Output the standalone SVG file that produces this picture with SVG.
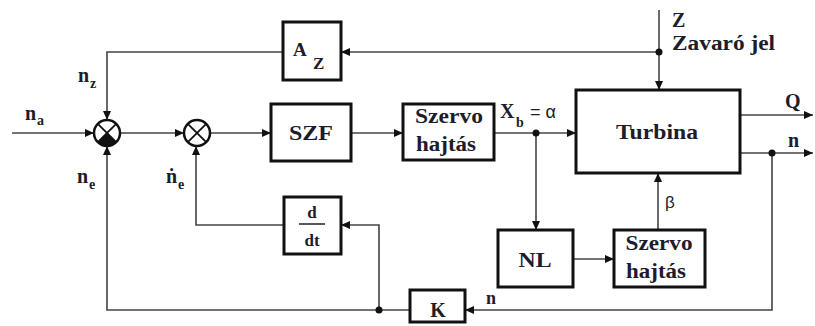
<svg xmlns="http://www.w3.org/2000/svg" width="815" height="326" viewBox="0 0 815 326">
<defs>
<marker id="ah" markerUnits="userSpaceOnUse" markerWidth="9" markerHeight="8" refX="9" refY="4" orient="auto">
<path d="M0,0 L9,4 L0,8 z" fill="#111"/>
</marker>
<style>
.box{fill:#fff;stroke:#111;stroke-width:3}
.ln{fill:none;stroke:#444;stroke-width:1.6}
.ar{fill:none;stroke:#444;stroke-width:1.6;marker-end:url(#ah)}
.t{font-family:'Liberation Serif','DejaVu Serif',serif;font-weight:bold;fill:#1c1c2c}
.s{font-family:'Liberation Sans','DejaVu Sans',sans-serif;fill:#1c1c2c}
.dot{fill:#111}
.sum{fill:#fff;stroke:#111;stroke-width:2.5}
.x{stroke:#111;stroke-width:1.8}
</style>
</defs>
<rect width="815" height="326" fill="#fff"/>

<g id="connectors">
<path class="ar" d="M12,133 H94"/>
<path class="ar" d="M283,52 H107 V120"/>
<path class="ar" d="M410,310 H107 V146"/>
<path class="ar" d="M120,133 H184"/>
<path class="ar" d="M210,133 H271"/>
<path class="ar" d="M351,133 H403"/>
<path class="ar" d="M494,133 H576"/>
<path class="ar" d="M536,133 V230"/>
<path class="ar" d="M573,259 H614"/>
<path class="ar" d="M658,230 V173"/>
<path class="ar" d="M659,10 V90"/>
<path class="ar" d="M659,52 H341"/>
<path class="ar" d="M740,115 H813"/>
<path class="ar" d="M740,153 H813"/>
<path class="ar" d="M772,153 V310 H465"/>
<path class="ar" d="M379,310 V225 H341"/>
<path class="ar" d="M284,225 H196 V146"/>
<circle class="dot" cx="536" cy="133" r="3.5"/>
<circle class="dot" cx="659" cy="52" r="3.5"/>
<circle class="dot" cx="772" cy="153" r="3.5"/>
<circle class="dot" cx="379" cy="310" r="3.5"/>
</g>

<g id="labels" font-family="'Liberation Serif', serif">
<text class="t" x="25" y="120" font-size="20">n</text>
<text class="t" x="37" y="125" font-size="14">a</text>
<text class="t" x="78" y="82" font-size="20">n</text>
<text class="t" x="90" y="88" font-size="14">z</text>
<text class="t" x="77" y="183" font-size="20">n</text>
<text class="t" x="89" y="189" font-size="14">e</text>
<text class="t" x="166" y="183" font-size="20">ṅ</text>
<text class="t" x="178" y="189" font-size="14">e</text>
<text class="t" x="500" y="118" font-size="20">X</text>
<text class="t" x="516" y="127" font-size="14">b</text>
<text class="s" x="530" y="118" font-size="18">= α</text>
<text class="t" x="672" y="27" font-size="20">Z</text>
<text class="t" x="672" y="50" font-size="20" textLength="103" lengthAdjust="spacingAndGlyphs">Zavaró jel</text>
<text class="t" x="785" y="108" font-size="20">Q</text>
<text class="t" x="788" y="147" font-size="20">n</text>
<text class="s" x="665" y="208" font-size="17">β</text>
<text class="t" x="486" y="304" font-size="18">n</text>
</g>

<g id="sum1">
<circle class="sum" cx="107" cy="133" r="13"/>
<path d="M107,133 L97.8,142.2 A13,13 0 0 0 116.2,142.2 Z" fill="#111"/>
<line class="x" x1="97.8" y1="123.8" x2="116.2" y2="142.2"/>
<line class="x" x1="116.2" y1="123.8" x2="97.8" y2="142.2"/>
</g>
<g id="sum2">
<circle class="sum" cx="197" cy="133" r="13"/>
<line class="x" x1="187.8" y1="123.8" x2="206.2" y2="142.2"/>
<line class="x" x1="206.2" y1="123.8" x2="187.8" y2="142.2"/>
</g>

<g id="az">
<rect class="box" x="283" y="22" width="58" height="58"/>
<text class="t" x="293" y="56" font-size="19">A</text>
<text class="t" x="313" y="69" font-size="17">Z</text>
</g>

<g id="szf">
<rect class="box" x="271" y="104" width="80" height="57"/>
<text class="t" x="311" y="140" font-size="20" text-anchor="middle" textLength="44" lengthAdjust="spacingAndGlyphs">SZF</text>
</g>

<g id="szervo1">
<rect class="box" x="403" y="104" width="91" height="56"/>
<text class="t" x="449" y="123" font-size="20" text-anchor="middle" textLength="68" lengthAdjust="spacingAndGlyphs">Szervo</text>
<text class="t" x="446" y="151" font-size="20" text-anchor="middle" textLength="60" lengthAdjust="spacingAndGlyphs">hajtás</text>
</g>

<g id="turbina">
<rect class="box" x="576" y="90" width="164" height="83"/>
<text class="t" x="657" y="139" font-size="20" text-anchor="middle" textLength="82" lengthAdjust="spacingAndGlyphs">Turbina</text>
</g>

<g id="nl">
<rect class="box" x="498" y="230" width="75" height="57"/>
<text class="t" x="535" y="267" font-size="20" text-anchor="middle" textLength="33" lengthAdjust="spacingAndGlyphs">NL</text>
</g>

<g id="szervo2">
<rect class="box" x="614" y="230" width="91" height="57"/>
<text class="t" x="659" y="250" font-size="20" text-anchor="middle" textLength="67" lengthAdjust="spacingAndGlyphs">Szervo</text>
<text class="t" x="656" y="278" font-size="20" text-anchor="middle" textLength="60" lengthAdjust="spacingAndGlyphs">hajtás</text>
</g>

<g id="ddt">
<rect class="box" x="284" y="197" width="57" height="57"/>
<text class="t" x="312" y="218" font-size="17" text-anchor="middle">d</text>
<line x1="299" y1="224" x2="325" y2="224" stroke="#111" stroke-width="1.4"/>
<text class="t" x="312" y="246" font-size="17" text-anchor="middle">dt</text>
</g>

<g id="k">
<rect class="box" x="410" y="290" width="55" height="32"/>
<text class="t" x="438" y="317" font-size="20" text-anchor="middle">K</text>
</g>
</svg>
